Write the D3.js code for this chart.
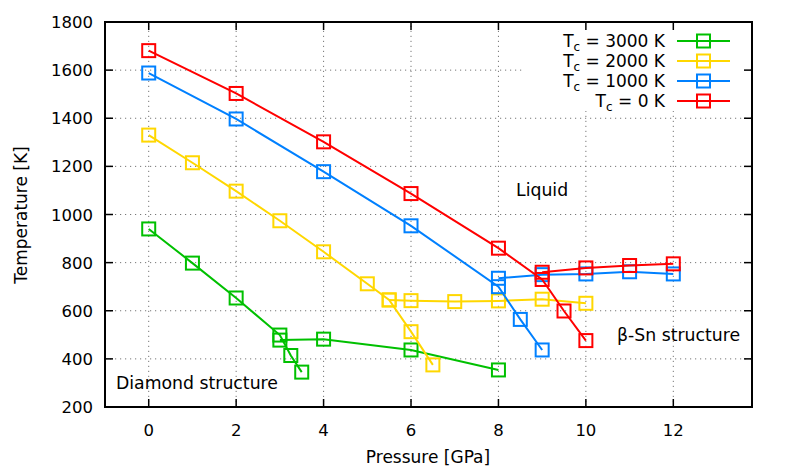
<!DOCTYPE html>
<html><head><meta charset="utf-8">
<script src="https://cdn.jsdelivr.net/npm/d3@7"></script>
<style>body{margin:0;background:#fff}svg{display:block}text{font-family:"DejaVu Sans",sans-serif;fill:#000}</style>
</head><body><svg id="c" width="787" height="473"></svg>
<script>
// ---- data ----
const xTicks = [0,2,4,6,8,10,12];
const yTicks = [200,400,600,800,1000,1200,1400,1600,1800];
const seriesNames = ["3000 K","2000 K","1000 K","0 K"];
const seriesColors = ["#00c000","#ffd700","#0080ff","#ff0000"];
// Tc = 3000 K
const g1P = [0,1,2,3,3.25,3.5];        const g1T = [940,798,653,499,414,345];
const g2P = [3,4,6,8];                 const g2T = [478,482,437,354];
// Tc = 2000 K
const y1P = [0,1,2,3,4,5,5.5,6,6.5];   const y1T = [1330,1215,1097,974,845,712,645,513,375];
const y2P = [5.5,6,7,8,9,10];          const y2T = [645,642,638,641,648,631];
// Tc = 1000 K
const b1P = [0,2,4,6,8,8.5,9];         const b1T = [1588,1397,1178,953,700,564,437];
const b2P = [8,9,10,11,12];            const b2T = [735,750,753,762,753];
// Tc = 0 K
const r1P = [0,2,4,6,8,9,9.5,10];      const r1T = [1681,1503,1302,1087,860,730,599,476];
const r2P = [9,10,11,12];              const r2T = [760,778,788,795];

const segments = [
  {s:0,P:g1P,T:g1T},{s:0,P:g2P,T:g2T},
  {s:1,P:y1P,T:y1T},{s:1,P:y2P,T:y2T},
  {s:2,P:b1P,T:b1T},{s:2,P:b2P,T:b2T},
  {s:3,P:r1P,T:r1T},{s:3,P:r2P,T:r2T}
];

// ---- layout ----
const L=105,R=752,T=22,B=407;
const svg=d3.select("#c");
const x=d3.scaleLinear().domain([-1,13.8]).range([L,R]);
const y=d3.scaleLinear().domain([200,1800]).range([B,T]);

// grid
const grid=svg.append("g").attr("stroke","#777").attr("stroke-width",1).attr("stroke-dasharray","1.2,3.8");
grid.selectAll(".gx").data(xTicks).join("line")
  .attr("x1",d=>x(d)).attr("x2",d=>x(d)).attr("y1",B).attr("y2",T);
grid.selectAll(".gy").data(yTicks.slice(1,-1)).join("line")
  .attr("x1",L).attr("x2",R).attr("y1",d=>y(d)).attr("y2",d=>y(d));

// legend background covers grid
svg.append("rect").attr("x",524).attr("y",24).attr("width",226).attr("height",87).attr("fill","#fff");

// data
const line=d3.line().x(d=>x(d[0])).y(d=>y(d[1]));
const S=13;
segments.forEach(seg=>{
  const pts=seg.P.map((p,i)=>[p,seg.T[i]]);
  const c=seriesColors[seg.s];
  svg.append("path").datum(pts).attr("d",line).attr("fill","none").attr("stroke",c).attr("stroke-width",2);
  svg.append("g").selectAll("rect").data(pts).join("rect")
    .attr("x",d=>x(d[0])-S/2).attr("y",d=>y(d[1])-S/2).attr("width",S).attr("height",S)
    .attr("fill","none").attr("stroke",c).attr("stroke-width",2);
});

// axes (ticks inward, mirrored)
const tl=8;
const ax=svg.append("g").attr("stroke","#000").attr("stroke-width",1.5);
xTicks.forEach(v=>{
  ax.append("line").attr("x1",x(v)).attr("x2",x(v)).attr("y1",B).attr("y2",B-tl);
  ax.append("line").attr("x1",x(v)).attr("x2",x(v)).attr("y1",T).attr("y2",T+tl);
});
yTicks.forEach(v=>{
  ax.append("line").attr("x1",L).attr("x2",L+tl).attr("y1",y(v)).attr("y2",y(v));
  ax.append("line").attr("x1",R).attr("x2",R-tl).attr("y1",y(v)).attr("y2",y(v));
});
svg.append("rect").attr("x",L).attr("y",T).attr("width",R-L).attr("height",B-T)
  .attr("fill","none").attr("stroke","#000").attr("stroke-width",2);

// tick labels
const fs=16.5;
svg.append("g").selectAll("text").data(xTicks).join("text")
  .attr("x",d=>x(d)).attr("y",B+29).attr("text-anchor","middle").attr("font-size",fs).text(d=>d);
svg.append("g").selectAll("text").data(yTicks).join("text")
  .attr("x",L-12).attr("y",d=>y(d)+6).attr("text-anchor","end").attr("font-size",fs).text(d=>d);

// axis titles
svg.append("text").attr("x",428).attr("y",463).attr("text-anchor","middle").attr("font-size",17).text("Pressure [GPa]");
svg.append("text").attr("transform","translate(27,215) rotate(-90)").attr("text-anchor","middle").attr("font-size",17).text("Temperature [K]");

// annotations
svg.append("text").attr("x",516).attr("y",196).attr("font-size",17.3).text("Liquid");
svg.append("text").attr("x",617).attr("y",341).attr("font-size",17.3).text("β-Sn structure");
svg.append("text").attr("x",116).attr("y",389).attr("font-size",17.3).text("Diamond structure");

// legend
const legY=[41,61,81,101];
seriesNames.forEach((n,i)=>{
  const t=svg.append("text").attr("x",665).attr("y",legY[i]+6).attr("text-anchor","end").attr("font-size",17);
  t.append("tspan").text("T");
  t.append("tspan").attr("dy",4).attr("font-size",12).text("c");
  t.append("tspan").attr("dy",-4).text(" = "+n);
  const c=seriesColors[i];
  svg.append("line").attr("x1",677).attr("x2",730).attr("y1",legY[i]).attr("y2",legY[i]).attr("stroke",c).attr("stroke-width",2);
  svg.append("rect").attr("x",703.5-S/2).attr("y",legY[i]-S/2).attr("width",S).attr("height",S).attr("fill","none").attr("stroke",c).attr("stroke-width",2);
});
</script></body></html>
